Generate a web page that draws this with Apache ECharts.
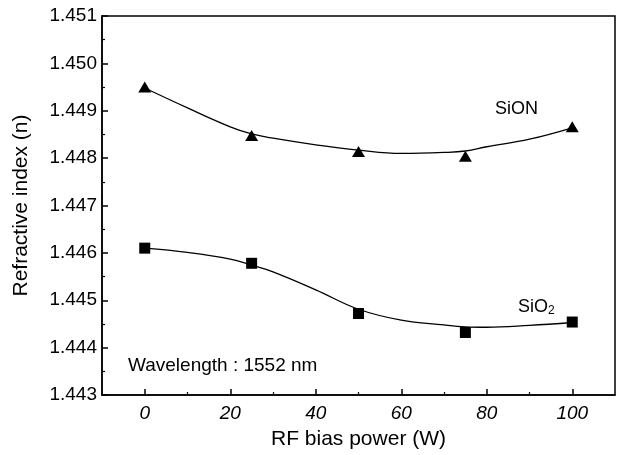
<!DOCTYPE html>
<html>
<head>
<meta charset="utf-8">
<script src="https://cdn.jsdelivr.net/npm/echarts@6/dist/echarts.min.js"></script>
<style>
  html, body { margin: 0; padding: 0; background: #fff; }
  #chart { width: 622px; height: 455px; }
</style>
</head>
<body>
<div id="chart"></div>
<script>
  // measured points
  var power = [0, 25, 50, 75, 100];
  var sionIndex = [1.44950, 1.44848, 1.44814, 1.44804, 1.44866];
  var sio2Index = [1.44610, 1.44578, 1.44472, 1.44432, 1.44454];

  // fitted curves
  var fitPower = [0, 10, 20, 25, 30, 40, 50, 60, 70, 75, 80, 90, 100];
  var sionFit = [1.44948, 1.44906, 1.44866, 1.44851, 1.44842, 1.44828, 1.44817, 1.44810, 1.44812, 1.44815, 1.44824, 1.44840, 1.44864];
  var sio2Fit = [1.44610, 1.44601, 1.44587, 1.44574, 1.44560, 1.44522, 1.44481, 1.44458, 1.44448, 1.44444, 1.44443, 1.44447, 1.44453];

  var xTicks = [0, 20, 40, 60, 80, 100];
  var xMinorTicks = [10, 30, 50, 70, 90];

  function pairs(xs, ys) {
    return xs.map(function (x, i) { return [x, ys[i]]; });
  }

  var font = 'Liberation Sans, Arial, sans-serif';
  var myChart = echarts.init(document.getElementById('chart'));
  var option = {
    animation: false,
    backgroundColor: '#fff',
    textStyle: { fontFamily: font, color: '#000' },
    grid: {
      left: 102, top: 16, right: 7, bottom: 60,
      show: true, borderColor: '#000', borderWidth: 1.5,
      backgroundColor: 'transparent'
    },
    xAxis: [{
      type: 'value',
      min: -10,
      max: 110,
      name: 'RF bias power (W)',
      nameLocation: 'middle',
      nameGap: 34,
      nameTextStyle: { fontSize: 21, color: '#000', fontFamily: font },
      axisLine: { show: true, onZero: false, lineStyle: { color: '#000', width: 1.5 } },
      axisTick: { show: true, inside: true, length: 6, customValues: xTicks, lineStyle: { color: '#000', width: 1.5 } },
      axisLabel: {
        customValues: xTicks, margin: 9, fontSize: 19, fontStyle: 'italic',
        color: '#000', fontFamily: font
      },
      splitLine: { show: false }
    }, {
      type: 'value',
      position: 'bottom',
      min: -10,
      max: 110,
      axisLine: { show: false, onZero: false },
      axisTick: { show: true, inside: true, length: 3, customValues: xMinorTicks, lineStyle: { color: '#000', width: 1.2 } },
      axisLabel: { show: false },
      splitLine: { show: false }
    }],
    yAxis: {
      type: 'value',
      min: 1.443,
      max: 1.451,
      interval: 0.001,
      name: 'Refractive index (n)',
      nameLocation: 'middle',
      nameGap: 70,
      nameTextStyle: { fontSize: 21, color: '#000', fontFamily: font },
      axisLine: { show: true, onZero: false, lineStyle: { color: '#000', width: 1.5 } },
      axisTick: { show: true, inside: true, length: 6, lineStyle: { color: '#000', width: 1.5 } },
      minorTick: { show: true, splitNumber: 2, length: 3, lineStyle: { color: '#000', width: 1.2 } },
      axisLabel: {
        margin: 5, fontSize: 19, color: '#000', fontFamily: font,
        formatter: function (v) { return v.toFixed(3); }
      },
      splitLine: { show: false }
    },
    graphic: [
      { type: 'text', left: 495, top: 100, style: { text: 'SiON', fontSize: 18, fill: '#000', fontFamily: font } },
      {
        type: 'text', left: 518, top: 298,
        style: {
          text: '{a|SiO}{b|2}', fill: '#000', fontFamily: font,
          rich: {
            a: { fontSize: 18, fontFamily: font, fill: '#000' },
            b: { fontSize: 12, fontFamily: font, fill: '#000', verticalAlign: 'bottom', padding: [8, 0, 0, 0] }
          }
        }
      },
      { type: 'text', left: 128, top: 356, style: { text: 'Wavelength : 1552 nm', fontSize: 19, fill: '#000', fontFamily: font } }
    ],
    series: [{
      name: 'SiON fit',
      type: 'line',
      smooth: 0.4,
      showSymbol: false,
      data: pairs(fitPower, sionFit),
      lineStyle: { color: '#000', width: 1.3 }
    }, {
      name: 'SiO2 fit',
      type: 'line',
      smooth: 0.4,
      showSymbol: false,
      data: pairs(fitPower, sio2Fit),
      lineStyle: { color: '#000', width: 1.3 }
    }, {
      name: 'SiON',
      type: 'scatter',
      symbol: 'triangle',
      symbolSize: [13, 11],
      itemStyle: { color: '#000', opacity: 1 },
      data: pairs(power, sionIndex)
    }, {
      name: 'SiO2',
      type: 'scatter',
      symbol: 'rect',
      symbolSize: 11,
      itemStyle: { color: '#000', opacity: 1 },
      data: pairs(power, sio2Index)
    }]
  };
  myChart.setOption(option);
</script>
</body>
</html>
